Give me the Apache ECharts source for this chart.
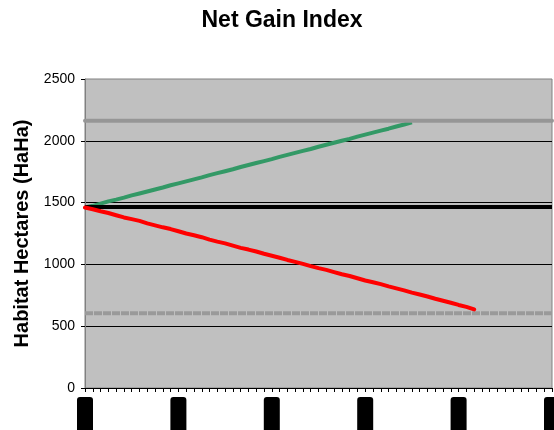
<!DOCTYPE html>
<html>
<head>
<meta charset="utf-8">
<script src="https://cdn.jsdelivr.net/npm/echarts@6/dist/echarts.min.js"></script>
<style>
html, body { margin: 0; padding: 0; background: #fff; }
#chart { width: 554px; height: 430px; }
</style>
</head>
<body>
<div id="chart"></div>
<script>
// 61 time steps along the x axis (years)
const years = []
for (let y = 2010; y <= 2070; y++) years.push(String(y))

// declining habitat (red)
const lossValues = [1460, 1446, 1430, 1416, 1398, 1380, 1366, 1352, 1332, 1316,
  1300, 1286, 1268, 1250, 1236, 1220, 1200, 1184, 1170, 1152,
  1134, 1120, 1104, 1086, 1070, 1054, 1036, 1020, 1004, 986,
  970, 956, 938, 920, 906, 888, 870, 856, 840, 822,
  806, 790, 772, 756, 740, 722, 706, 690, 672, 656, 636]

// increasing habitat (green)
const gainValues = [1460, 1474, 1492, 1510, 1524, 1540, 1558, 1574, 1590, 1606,
  1622, 1640, 1656, 1672, 1688, 1704, 1722, 1738, 1754, 1770,
  1788, 1804, 1820, 1836, 1852, 1870, 1886, 1902, 1918, 1934,
  1952, 1968, 1984, 2000, 2016, 2034, 2050, 2066, 2082, 2098,
  2116, 2132, 2150]

// flat reference levels
const currentLevel = 1465
const upperLevel = 2163
const lowerLevel = 605

const yTicks = [0, 500, 1000, 1500, 2000, 2500]

const chart = echarts.init(document.getElementById('chart'))

const first = years[0]
const last = years[years.length - 1]

const option = {
  animation: false,
  title: {
    text: 'Net Gain Index',
    left: 277,
    textAlign: 'center',
    top: 4,
    textStyle: { fontFamily: 'Liberation Sans', fontWeight: 'bold', fontSize: 23, color: '#000' }
  },
  grid: {
    left: 85, right: 2, top: 79, bottom: 42,
    outerBoundsMode: 'none',
    containLabel: false,
    show: true,
    backgroundColor: '#c0c0c0',
    borderColor: '#808080',
    borderWidth: 1
  },
  xAxis: {
    type: 'category',
    boundaryGap: false,
    data: years,
    axisLine: { lineStyle: { color: '#000', width: 1 } },
    axisTick: { interval: 0, length: 4, lineStyle: { color: '#000' } },
    axisLabel: {
      interval: 11,
      rotate: 90,
      margin: 9,
      fontFamily: 'Liberation Sans',
      fontWeight: 'bold',
      fontSize: 12,
      color: '#000',
      backgroundColor: '#000',
      borderRadius: [0, 3, 3, 0],
      lineHeight: 16,
      padding: [0, 4, 0, 4]
    },
    splitLine: { show: false }
  },
  yAxis: {
    type: 'value',
    min: yTicks[0],
    max: yTicks[yTicks.length - 1],
    interval: 500,
    name: 'Habitat Hectares (HaHa)',
    nameLocation: 'middle',
    nameGap: 53,
    nameTextStyle: { fontFamily: 'Liberation Sans', fontWeight: 'bold', fontSize: 20, color: '#000' },
    axisLine: { show: true, lineStyle: { color: '#808080' } },
    axisTick: { show: true, length: 4, lineStyle: { color: '#000' } },
    axisLabel: {
      fontFamily: 'Liberation Sans', fontSize: 14, color: '#000', margin: 10,
      formatter: v => String(v)
    },
    splitLine: { show: true, showMaxLine: false, lineStyle: { color: '#000', width: 1 } }
  },
  series: [
    {
      name: 'Upper',
      type: 'line',
      symbol: 'none',
      data: [[first, upperLevel], [last, upperLevel]],
      lineStyle: { color: '#969696', width: 4, cap: 'round' },
      z: 2
    },
    {
      name: 'Lower',
      type: 'line',
      symbol: 'none',
      data: [[first, lowerLevel], [last, lowerLevel]],
      lineStyle: { color: '#9a9a9a', width: 4, type: [8, 1] },
      z: 2
    },
    {
      name: 'Current',
      type: 'line',
      symbol: 'none',
      data: [[first, currentLevel], [last, currentLevel]],
      lineStyle: { color: '#000', width: 4 },
      z: 3
    },
    {
      name: 'Gain',
      type: 'line',
      symbol: 'none',
      data: gainValues,
      lineStyle: { color: '#339966', width: 4 },
      z: 1
    },
    {
      name: 'Loss',
      type: 'line',
      symbol: 'none',
      data: lossValues,
      lineStyle: { color: '#ff0000', width: 4, cap: 'round' },
      z: 4
    }
  ]
}

chart.setOption(option)
</script>
</body>
</html>
